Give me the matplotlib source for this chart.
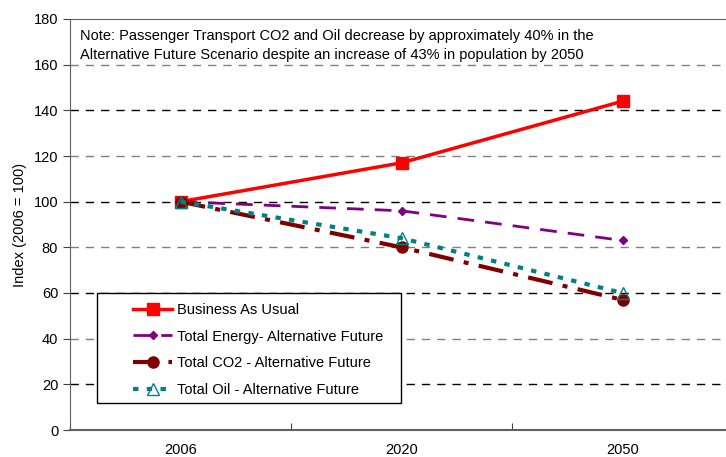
import matplotlib.pyplot as plt
from matplotlib.patches import Rectangle

plt.rcParams['font.family'] = ['Liberation Sans', 'DejaVu Sans']

years = ['2006', '2020', '2050']
bau = [100, 117, 144]
energy = [100, 96, 83]
co2 = [100, 80, 57]
oil = [100, 84, 60]
yticks = list(range(0, 181, 20))

fig = plt.figure(figsize=(7.26, 4.57), dpi=100)
ax = fig.add_axes([70 / 726, 27 / 457, 663 / 726, 411 / 457])

x = list(range(len(years)))

# grid lines, alternating shades like the original
for i, v in enumerate(yticks[1:-1]):
    col = '#808080' if i % 2 == 1 else '#000000'
    ax.axhline(v, color=col, ls=(0, (6, 5)), lw=1, zorder=0)

ax.plot(x, bau, color='#ff0000', lw=2.5, marker='s', ms=8, label='Business As Usual')
ax.plot(x, energy, color='#800080', lw=2, ls=(0, (6, 4)), marker='D', ms=4.5,
        label='Total Energy- Alternative Future')
ax.plot(x, co2, color='#800000', lw=3, ls=(0, (6, 2.5, 1.2, 2.5)), marker='o', ms=8,
        label='Total CO2 - Alternative Future')
ax.plot(x, oil, color='#008080', lw=3, ls=(0, (1.3, 2)), marker='^', ms=8,
        mfc='none', mec='#008080', mew=1, label='Total Oil - Alternative Future')

ax.set_xlim(-0.5, 2.5)
ax.set_ylim(0, 180)
ax.set_yticks(yticks)
ax.set_xticks([-0.5, 0.5, 1.5, 2.5], minor=False)
ax.set_xticklabels([])
ax.set_xticks(x, minor=True)
ax.set_xticklabels(years, minor=True)
ax.tick_params(axis='x', which='minor', length=0, pad=9, labelsize=10.5)
ax.tick_params(axis='x', which='major', length=5, direction='in', color='#404040')
ax.tick_params(axis='y', length=5, direction='out', labelsize=10.5, color='#404040')
for s in ax.spines.values():
    s.set_color('#606060')
ax.spines['bottom'].set_linewidth(1.5)

ax.set_ylabel('Index (2006 = 100)', fontsize=10.5, labelpad=5)

ax.text(0.015, 0.975, 'Note: Passenger Transport CO2 and Oil decrease by approximately 40% in the\n'
        'Alternative Future Scenario despite an increase of 43% in population by 2050',
        transform=ax.transAxes, ha='left', va='top', fontsize=10.5, linespacing=1.45)

# legend box drawn separately so the entries can sit indented as in the original
ax.add_patch(Rectangle((97 / 726, 54 / 457), 304 / 726, 110 / 457,
                       transform=fig.transFigure, fill=True, fc='white',
                       ec='#000000', lw=1, zorder=5, clip_on=False))
leg = ax.legend(loc='center left', bbox_to_anchor=(133 / 726, 107 / 457),
                bbox_transform=fig.transFigure, frameon=False,
                fontsize=10.5, handlelength=2.7, borderaxespad=0, labelspacing=0.88,
                borderpad=0, handletextpad=0.3)
leg.set_zorder(6)

fig.savefig('out.png', dpi=100)
